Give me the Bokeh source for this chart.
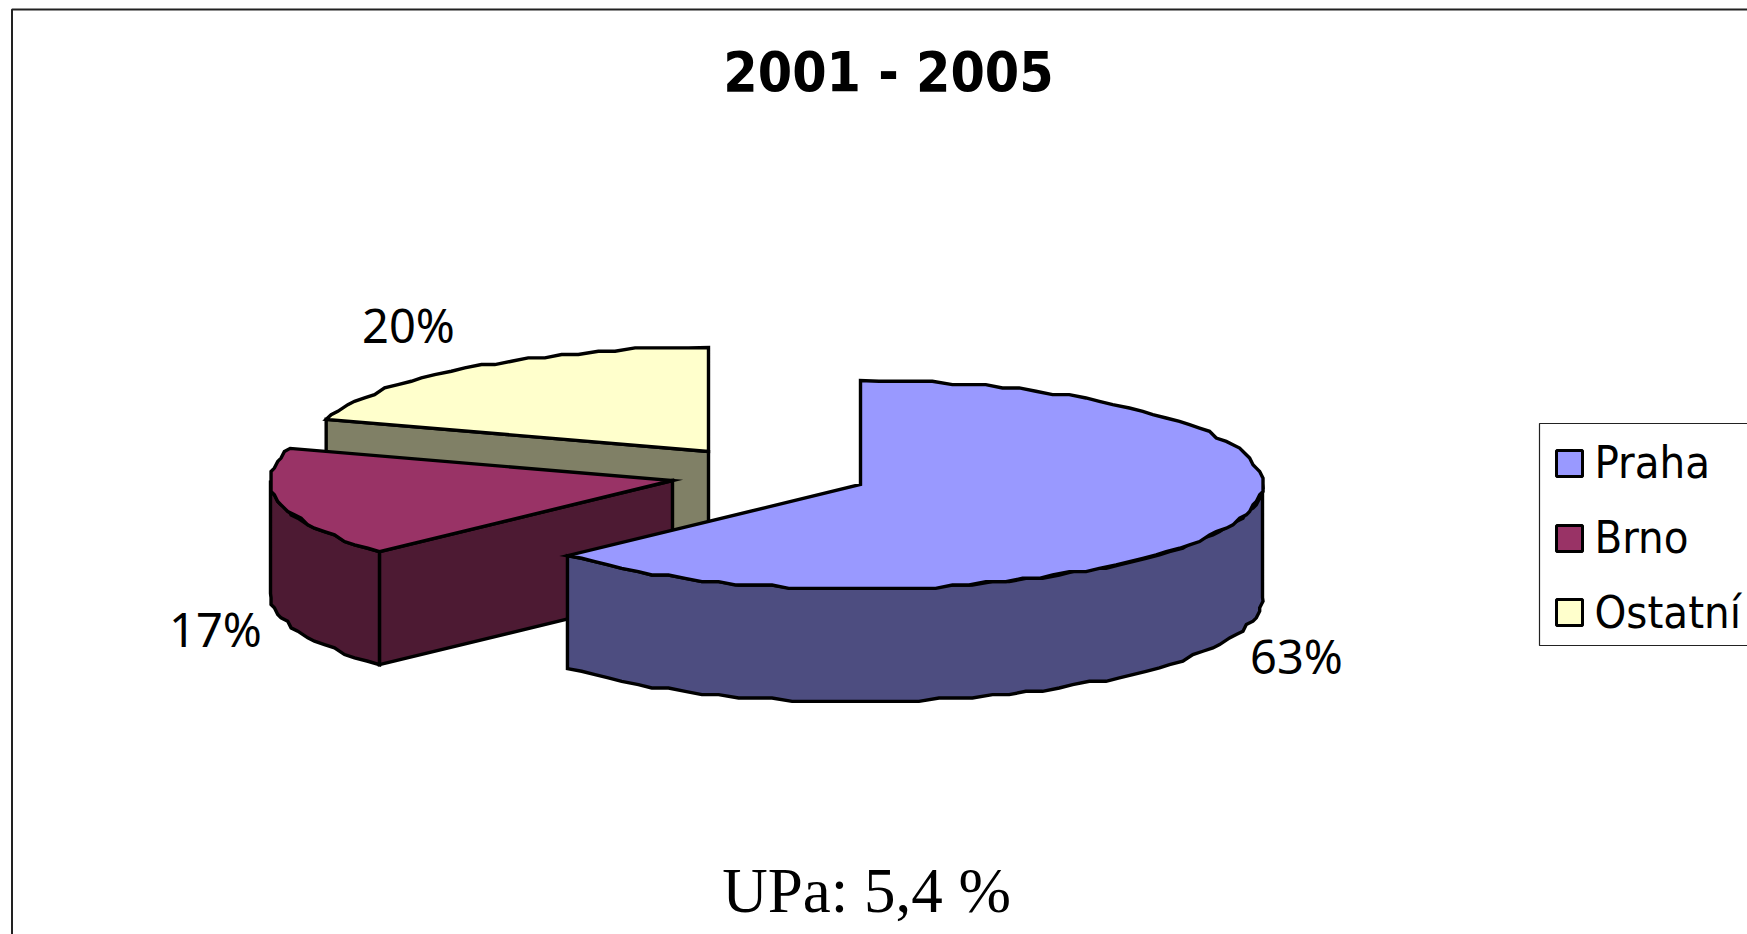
import math
from bokeh.plotting import figure
from bokeh.embed import file_html
from bokeh.resources import INLINE
from bokeh.core.properties import value
from bokeh.models import Range1d

title = "2001 - 2005"
note = "UPa: 5,4 %"
categories = ["Praha", "Brno", "Ostatní"]
shares = [63, 17, 20]
top_colors = ["#9999FF", "#993366", "#FFFFCC"]
side_colors = ["#4D4D80", "#4D1A33", "#808066"]

W, H = 1747, 934
p = figure(width=W, height=H, output_backend="svg", toolbar_location=None,
           x_range=Range1d(0, W), y_range=Range1d(H, 0),
           min_border=0, outline_line_color=None)
p.axis.visible = False
p.grid.visible = False
p.background_fill_color = "white"
p.border_fill_color = "white"

RX, RY, DEPTH = 402, 104, 113
GRID = 3.34
LW = 3.4
centers = {"Praha": (860, 484), "Brno": (672, 480), "Ostatní": (708, 451)}


def q(v):
    return round(v / GRID) * GRID


def arc(c, a0, a1, dy=0):
    """Jagged outline of a pie rim, angles in degrees clockwise from the top."""
    n = max(2, int(abs(a1 - a0) / 2.6))
    pts = []
    for i in range(n + 1):
        a = math.radians(a0 + (a1 - a0) * i / n)
        x = c[0] + RX * math.sin(a)
        y = c[1] - RY * math.cos(a) + dy
        if 0 < i < n:
            x, y = q(x), q(y - dy) + dy
        pts.append((x, y))
    return pts


def poly(pts, color):
    p.patch([a for a, _ in pts], [b for _, b in pts], fill_color=color,
            line_color="black", line_width=LW, line_join="miter")


# slice angles from the shares
ang = []
acc = 0
for s in shares:
    ang.append((acc * 3.6, (acc + s) * 3.6))
    acc += s
a_pr, a_br, a_os = ang
cp, cb, co = centers["Praha"], centers["Brno"], centers["Ostatní"]

# Ostatní: cut wall, then top
e = arc(co, a_os[0], a_os[0])[0]
poly([co, e, (e[0], e[1] + DEPTH), (co[0], co[1] + DEPTH)], side_colors[2])
poly([co] + arc(co, a_os[0], a_os[1]), top_colors[2])

# Brno: cut wall, rim wall, top
s0 = arc(cb, a_br[0], a_br[0])[0]
poly([cb, s0, (s0[0], s0[1] + DEPTH), (cb[0], cb[1] + DEPTH)], side_colors[1])
rim = arc(cb, a_br[0], 270)
poly(rim + [(x, y + DEPTH) for x, y in reversed(rim)], side_colors[1])
poly([cb] + arc(cb, a_br[0], a_br[1]), top_colors[1])

# Praha: rim wall, then top
rim = arc(cp, 90, a_pr[1])
poly(rim + [(x, y + DEPTH) for x, y in reversed(rim)], side_colors[0])
poly([cp] + arc(cp, a_pr[0], a_pr[1]), top_colors[0])

# outer frame and legend box (both run off the right edge)
p.line([11.5, 11.5, W], [H, 9, 9], line_color="#222222", line_width=2)
p.line([W, 1539, 1539, W], [423, 423, 645, 645], line_color="#222222", line_width=1.2)

BASE = 20  # bokeh's svg offset of an alphabetic baseline

# legend
legend_y = [463, 538, 612]
legend_base = [482, 557, 632]
for name, col, y, b in zip(categories, top_colors, legend_y, legend_base):
    p.rect([1569], [y], width=26, height=26, fill_color=col, line_color="black", line_width=3)
    p.text([1594], [b - BASE], text=[name], text_font=value("DejaVu Sans Condensed"), text_font_size="45px",
           text_color="black", text_baseline="alphabetic", text_align="left")

# percent labels
label_xy = {"Praha": (1296, 675), "Brno": (215, 648), "Ostatní": (408, 344)}
for name, s in zip(categories, shares):
    x, y = label_xy[name]
    p.text([x], [y - BASE], text=[f"{s}%"], text_font=value("Noto Sans"), text_font_size="47px",
           text_color="black", text_align="center", text_baseline="alphabetic")

p.text([888], [91 - BASE], text=[title], text_font=value("DejaVu Sans Condensed"), text_font_style="bold",
       text_font_size="55px", text_color="black", text_align="center", text_baseline="alphabetic")
p.text([866], [913 - 23], text=[note], text_font=value("Liberation Serif"), text_font_size="63px",
       text_color="black", text_align="center", text_baseline="alphabetic")

open("out.html", "w").write(file_html(p, INLINE))
